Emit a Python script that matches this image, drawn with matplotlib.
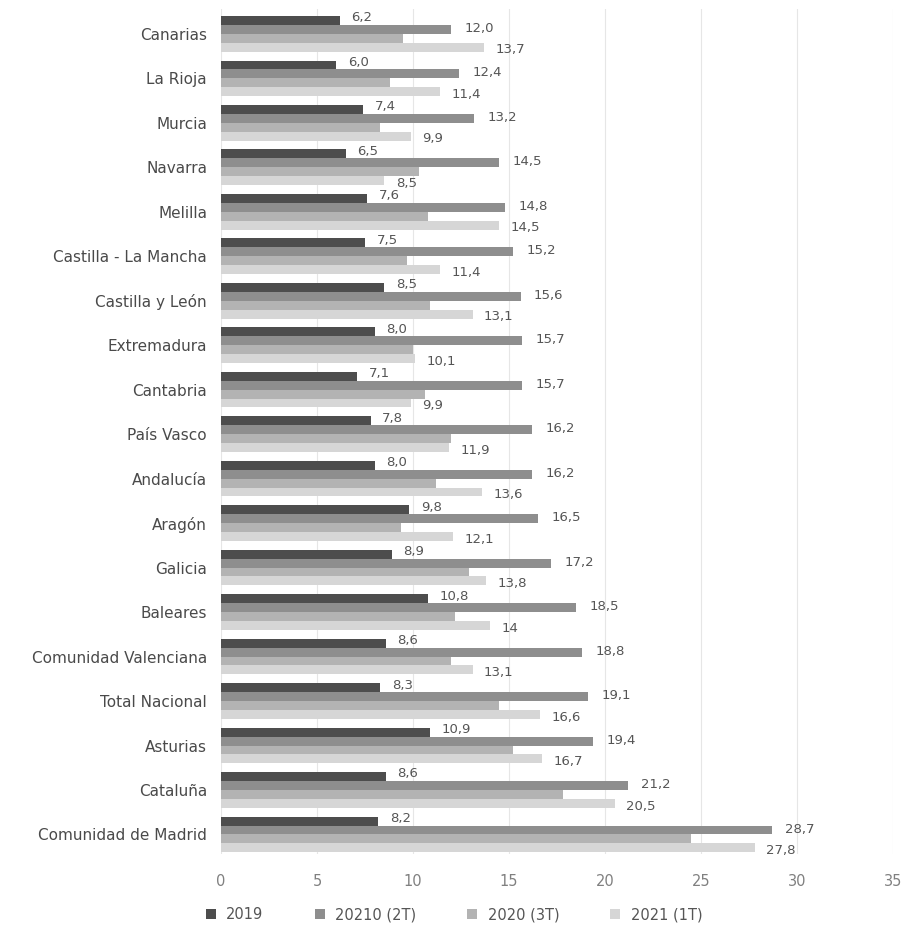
import matplotlib.pyplot as plt
import numpy as np

regions = [
    "Canarias", "La Rioja", "Murcia", "Navarra", "Melilla",
    "Castilla - La Mancha", "Castilla y León", "Extremadura", "Cantabria",
    "País Vasco", "Andalucía", "Aragón", "Galicia", "Baleares",
    "Comunidad Valenciana", "Total Nacional", "Asturias", "Cataluña",
    "Comunidad de Madrid",
]
v2019 = [6.2, 6.0, 7.4, 6.5, 7.6, 7.5, 8.5, 8.0, 7.1, 7.8, 8.0, 9.8, 8.9,
         10.8, 8.6, 8.3, 10.9, 8.6, 8.2]
v2020_2t = [12.0, 12.4, 13.2, 14.5, 14.8, 15.2, 15.6, 15.7, 15.7, 16.2, 16.2,
            16.5, 17.2, 18.5, 18.8, 19.1, 19.4, 21.2, 28.7]
v2020_3t = [9.5, 8.8, 8.3, 10.3, 10.8, 9.7, 10.9, 10.0, 10.6, 12.0, 11.2,
            9.4, 12.9, 12.2, 12.0, 14.5, 15.2, 17.8, 24.5]
v2021_1t = [13.7, 11.4, 9.9, 8.5, 14.5, 11.4, 13.1, 10.1, 9.9, 11.9, 13.6,
            12.1, 13.8, 14.0, 13.1, 16.6, 16.7, 20.5, 27.8]
lbl_2021 = ["13,7", "11,4", "9,9", "8,5", "14,5", "11,4", "13,1", "10,1",
            "9,9", "11,9", "13,6", "12,1", "13,8", "14", "13,1", "16,6",
            "16,7", "20,5", "27,8"]
series_names = ["2019", "20210 (2T)", "2020 (3T)", "2021 (1T)"]
colors = ["#4d4d4d", "#8e8e8e", "#b3b3b3", "#d6d6d6"]

plt.rcParams["font.family"] = ["DejaVu Sans"]

fig = plt.figure(figsize=(9.09, 9.39), dpi=100)
ax = fig.add_axes([0.2431, 0.090, 0.7393, 0.900])

y = np.arange(len(regions))
h = 0.2
data = [v2019, v2020_2t, v2020_3t, v2021_1t]
for i, vals in enumerate(data):
    ax.barh(y - 0.3 + i * h, vals, height=h, color=colors[i],
            label=series_names[i], zorder=2)

def fmt(v):
    return f"{v:.1f}".replace(".", ",")

txt = "#555555"
for k in range(len(regions)):
    ax.text(v2019[k] + 0.6, y[k] - 0.36, fmt(v2019[k]), fontsize=9.5,
            color=txt, va="center", ha="left")
    ax.text(v2020_2t[k] + 0.7, y[k] - 0.12, fmt(v2020_2t[k]), fontsize=9.5,
            color=txt, va="center", ha="left")
    ax.text(v2021_1t[k] + 0.6, y[k] + 0.36, lbl_2021[k], fontsize=9.5,
            color=txt, va="center", ha="left")

ax.set_yticks(y)
ax.set_yticklabels(regions, fontsize=11, color="#4a4a4a")
ax.set_ylim(len(regions) - 0.55, -0.55)
ax.set_xlim(0, 35)
ax.set_xticks(np.arange(0, 36, 5))
ax.tick_params(axis="x", labelsize=10.5, labelcolor="#808080", length=0, pad=14)
ax.tick_params(axis="y", length=0, pad=10)
ax.grid(axis="x", color="#e6e6e6", linewidth=0.8, zorder=0)
for s in ax.spines.values():
    s.set_visible(False)

fig.legend(loc="center left", bbox_to_anchor=(0.212, 0.026), ncol=4,
           frameon=False, fontsize=10.5, handlelength=0.7, handleheight=0.7,
           columnspacing=3.5, handletextpad=0.7, labelcolor="#555555")

fig.savefig("out.png", dpi=100, facecolor="white")
